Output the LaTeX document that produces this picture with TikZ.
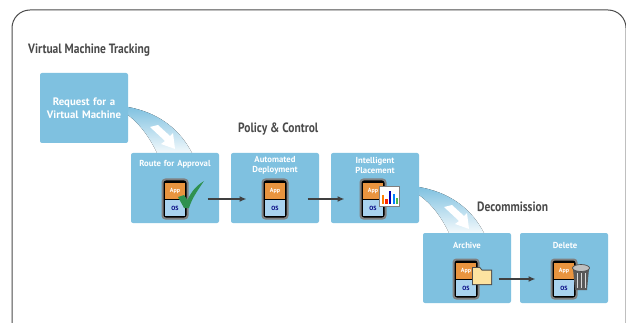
\documentclass[tikz,border=0pt]{standalone}
\usepackage{xcolor}
\usepackage{fontspec}
\setmainfont{PT Sans}
\newfontfamily\headfont[FakeStretch=0.85]{PT Sans}
\usetikzlibrary{arrows.meta, positioning}

\definecolor{boxblue}{HTML}{7FC1E0}
\definecolor{appcol}{HTML}{E9943F}
\definecolor{oscol}{HTML}{A9D3EF}
\definecolor{titlecol}{HTML}{4A4A4A}
\definecolor{checkcol}{HTML}{2F9150}

\begin{document}
\begin{tikzpicture}[
    x=1pt, y=-1pt,
    node distance = 12pt and 12pt,
    stagebox/.style = {fill=boxblue, rounded corners=2pt, minimum width=88pt,
                       minimum height=70pt, inner sep=0pt, outer sep=0pt},
    stagetext/.style = {text=white, font=\bfseries\fontsize{8.7}{10}\selectfont,
                        align=center, text width=86pt, inner sep=0pt},
    headtext/.style = {text=titlecol, font=\headfont\bfseries\fontsize{13.5}{15}\selectfont,
                       inner sep=0pt, anchor=west},
    vmbody/.style = {minimum width=25pt, minimum height=39pt, inner sep=0pt,
                     outer sep=0pt, draw=gray, line width=2pt, fill=black,
                     rounded corners=3pt},
    vmlabel/.style = {font=\bfseries\fontsize{6}{6}\selectfont, inner sep=0pt,
                      minimum width=20pt, minimum height=16pt, outer sep=0pt},
    flow/.style = {draw=black!75, line width=1.4pt, -{Latex[length=7pt,width=6pt]},
                   shorten <=20pt, shorten >=16pt},
    swoosh/.style = {top color=boxblue, bottom color=boxblue!10, draw=none},
                            ]
    \useasboundingbox (0,0) rectangle (626,323);
    \fill[white] (0,0) rectangle (626,323);
    \draw[black!70, line width=1pt, rounded corners=18pt]
        (12,333) -- (12,10) -- (626,10) -- (626,333);

    \node (title) [headtext] at (28,50) {Virtual Machine Tracking};
    \node (policy) [headtext] at (238,129) {Policy \& Control};
    \node (decom) [headtext] at (477,207) {Decommission};

    % swooshes go under the boxes
    \fill[swoosh] (128,107) .. controls (155,112) and (178,126) .. (192,153)
        -- (157,153) .. controls (150,138) and (140,124) .. (128,115) -- cycle;
    \fill[swoosh] (419,187) .. controls (447,192) and (470,206) .. (484,233)
        -- (449,233) .. controls (442,218) and (432,204) .. (419,195) -- cycle;
    \fill[white] (150,127) -- (158,125) -- (170,136) -- (173,133) -- (175,149)
        -- (161,144) -- (165,141) -- cycle;
    \fill[white] (444,207) -- (452,205) -- (464,216) -- (467,213) -- (469,229)
        -- (455,224) -- (459,221) -- cycle;

    \node (request) [stagebox] at (84,108) {};
    \node (route) [stagebox] at (175,188) {};
    \node (deploy) [stagebox, right=of route] {};
    \node (place) [stagebox, right=of deploy] {};
    \node (archive) [stagebox] at (467,268) {};
    \node (delete) [stagebox, right=9pt of archive] {};

    \node (requesttext) [stagetext, font=\bfseries\fontsize{10.8}{13}\selectfont] at (request) {Request for a\\Virtual Machine};
    \node (routetext) [stagetext] at (175,164) {Route for Approval};
    \node (deploytext) [stagetext] at (275,165) {Automated\\Deployment};
    \node (placetext) [stagetext] at (375,165) {Intelligent\\Placement};
    \node (archivetext) [stagetext] at (467,245) {Archive};
    \node (deletetext) [stagetext] at (565,245) {Delete};

    % the vm icons
    \foreach \vmname/\vmx/\vmy in {routevm/175/199, deployvm/275/199, placevm/373/199,
                                   archivevm/466/279, deletevm/564/279} {
        \node (\vmname) [vmbody] at (\vmx,\vmy) {};
        \node (\vmname app) [vmlabel, fill=appcol, text=white, above=0pt of \vmname.center] {App};
        \node (\vmname os) [vmlabel, fill=oscol, text=blue!50!black, below=1pt of \vmname.center] {OS};
    }

    \draw[flow] (routevm) -- (deployvm);
    \draw[flow] (deployvm) -- (placevm);
    \draw[flow] (archivevm) -- (deletevm);

    % check mark
    \fill[checkcol] (178,197) -- (184,195) -- (187.500,200)
        .. controls (191,192) and (196,186) .. (204,181)
        .. controls (198,190) and (192,198) .. (189,208) -- (184,208) -- cycle;

    % chart
    \node (chart) [draw=gray, line width=1pt, fill=white, minimum width=20pt,
                   minimum height=19pt, inner sep=0pt] at (389.5,196.5) {};
    \fill[orange] (382,195) rectangle (384,204);
    \fill[red!70!orange] (385,199) rectangle (387.500,204);
    \fill[blue!70!black] (389,191) rectangle (391,204);
    \fill[blue!50!cyan] (393,194) rectangle (395,204);
    \fill[green!60!black!70] (396,198) rectangle (398,204);

    % folder
    \fill[black!70] (472,267) -- (480,267) -- (482,269.500) -- (492,269.500) -- (492,285) -- (472,285) -- cycle;
    \fill[yellow!45!orange!35!white] (473,268) -- (479.500,268) -- (481.500,270.500) -- (491,270.500) -- (491,284) -- (473,284) -- cycle;

    % trash can
    \fill[black!65] (573,269) -- (589,269) -- (587,290) -- (575,290) -- cycle;
    \foreach \barx in {577,581,585} {
        \draw[white!70!gray, line width=0.8pt] (\barx,273) -- (\barx,288);
    }
    \fill[gray!50] (581,268) ellipse (8.5pt and 3.5pt);
    \draw[black!70, line width=0.7pt] (581,268) ellipse (8.5pt and 3.5pt);
    \end{tikzpicture}
\end{document}
